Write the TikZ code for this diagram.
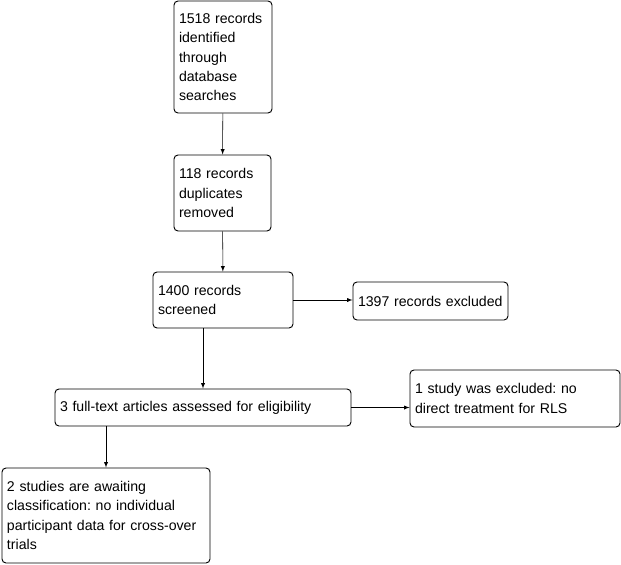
\documentclass[tikz,border=0pt]{standalone}
\usepackage{fontspec}
\setmainfont{Liberation Sans}
\usepackage{tikz}
\frenchspacing

\tikzset{
  box/.style={draw, rounded corners=3pt, align=left, inner xsep=3.75pt,
    line width=0.7pt, font=\fontsize{10.6}{14.6}\selectfont},
}

\begin{document}
\begin{tikzpicture}[x=0.75pt, y=-0.75pt, >=latex]
            \useasboundingbox (0,0) rectangle (621,564);
            \node[box, text width=66pt, minimum height=84pt] (ident) at (223,57)
                {1518 records\\identified\\through\\database\\searches};
            \node[box, text width=65.25pt, minimum height=57pt] (dupl) at (222.5,193)
                {118 records\\duplicates\\removed};
            \node[box, text width=97.5pt, minimum height=42pt] (screen) at (223,300)
                {1400 records\\screened};
            \node[box, text width=108.75pt, minimum height=28.5pt] (excl) at (430.5,301)
                {1397 records excluded};
            \node[box, text width=214.5pt, minimum height=27.75pt] (full) at (203,407.5)
                {3 full-text articles assessed for eligibility};
            \node[box, text width=150pt, minimum height=42.75pt] (studyexcl) at (515,398.5)
                {1 study was excluded: no\\direct treatment for RLS};
            \node[box, text width=148.5pt, minimum height=71.25pt] (await) at (106,515.5)
                {2 studies are awaiting\\classification: no individual\\participant data for cross-over\\trials};
            \draw[->] (ident) -- (dupl);
            \draw[->] (dupl) -- (screen);
            \draw[->] (screen.east) -- (screen.east -| excl.west);
            \draw[->] (full.north |- screen.south) -- (full.north);
            \draw[->] (full.east) -- (full.east -| studyexcl.west);
            \draw[->] (await.north |- full.south) -- (await.north);
        \end{tikzpicture}
\end{document}
